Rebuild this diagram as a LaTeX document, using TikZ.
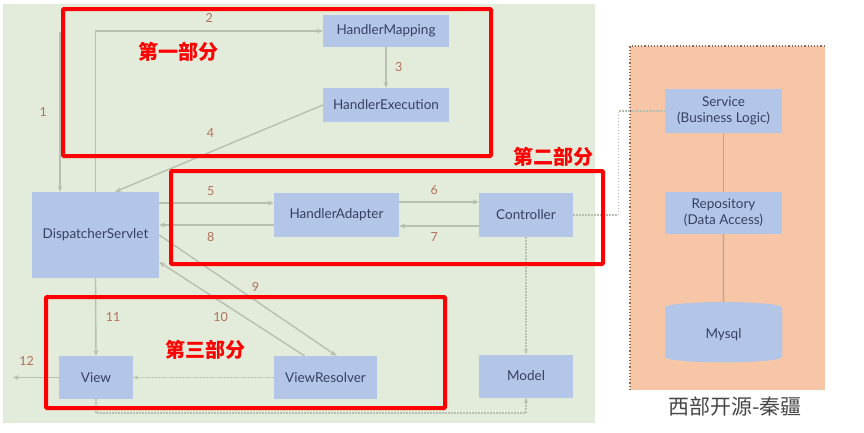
\documentclass[tikz,border=0pt]{standalone}
\usepackage{fontspec}
\setmainfont{Lato}
\newfontfamily\cjk{Noto Sans CJK SC}
\usepackage{tikz}
\usetikzlibrary{arrows.meta, calc, shapes.geometric}

\definecolor{bggreen}{HTML}{E3ECDA}
\definecolor{boxblue}{HTML}{B4C6E8}
\definecolor{boxtext}{HTML}{34405E}
\definecolor{linegray}{HTML}{B7BFB0}
\definecolor{numred}{HTML}{B2705B}
\definecolor{salmon}{HTML}{F6C6A6}

\tikzset{
  blk/.style={fill=boxblue, text=boxtext, font=\fontsize{13.5}{16}\selectfont, align=center, inner sep=0pt},
  flow/.style={draw=linegray, line width=1.4pt, -{Stealth[length=6pt, width=5pt]}},
  dots/.style={draw=linegray, line width=1.4pt, dash pattern=on 1.5pt off 1.5pt},
  num/.style={text=numred, font=\fontsize{12.5}{14}\selectfont},
  part/.style={draw=red, line width=4pt, rounded corners=1pt},
  parttext/.style={text=red, font=\cjk\bfseries\fontsize{20}{24}\selectfont}
}

\begin{document}
\begin{tikzpicture}[x=1pt, y=-1pt]
    \useasboundingbox (0,0) rectangle (864,432);
    % 1. 背景 (绿色区域 + 右侧橙色区域)
    \fill[bggreen] (3,4) rectangle (595,423);
    \fill[salmon] (630,46) rectangle (825,390);
    \draw[dotted, line width=1.2pt, black!45!salmon] (630,390) -- (630,46) -- (825,46);

    % 2. 各个组件
    \node[blk, minimum width=126, minimum height=32] (hm) at (386,31) {HandlerMapping};
    \node[blk, minimum width=126, minimum height=34] (he) at (386,105) {HandlerExecution};
    \node[blk, minimum width=127, minimum height=86] (ds) at (95.5,235) {DispatcherServlet};
    \node[blk, minimum width=125, minimum height=44] (ha) at (336.5,215) {HandlerAdapter};
    \node[blk, minimum width=94, minimum height=44] (ctl) at (526,215) {Controller};
    \node[blk, minimum width=74, minimum height=43] (view) at (96,377.5) {View};
    \node[blk, minimum width=103, minimum height=43] (vr) at (325.5,377.5) {ViewResolver};
    \node[blk, minimum width=94, minimum height=43] (model) at (526,376) {Model};
    \node[blk, minimum width=117, minimum height=44] (svc) at (723.5,111) {Service\\(Business Logic)};
    \node[blk, minimum width=117, minimum height=42] (repo) at (723.5,213) {Repository\\(Data Access)};
    \node[blk, cylinder, shape border rotate=90, aspect=0.3, minimum width=117, minimum height=60,
          cylinder uses custom fill, cylinder body fill=boxblue, cylinder end fill=boxblue] (db) at (723.5,335) {Mysql};

    % 3. 请求流程 1-12
    \coordinate (in1) at (60,32);
    \draw[flow] (in1) -- (in1 |- ds.north) node[num, midway, left=9pt] {1};
    \draw[flow] (ds.north) |- (hm.west) node[num, pos=0.75, above=4pt] {2};
    \draw[flow] (hm.south) -- (he.north) node[num, midway, right=5pt] {3};
    \draw[flow] (he.west) -- ([xshift=19.5pt]ds.north) node[num, pos=0.54, above=10pt] {4};

    \coordinate (a5) at ([yshift=12pt]ha.west);
    \coordinate (a8) at ([yshift=-10pt]ha.west);
    \coordinate (a6) at ([yshift=13pt]ha.east);
    \coordinate (a7) at ([yshift=-11pt]ctl.west);
    \draw[flow] (a5 -| ds.east) -- (a5) node[num, pos=0.45, above=3pt] {5};
    \draw[flow] (a6) -- (a6 -| ctl.west) node[num, pos=0.44, above=3pt] {6};
    \draw[flow] (a7) -- (a7 -| ha.east) node[num, pos=0.56, below=3pt] {7};
    \draw[flow] (a8) -- (a8 -| ds.east) node[num, pos=0.55, below=3pt] {8};

    \draw[flow] (ds.east) -- ([xshift=11pt]vr.north) node[num, pos=0.5, above right=0pt] {9};
    \draw[flow] ([xshift=-21pt]vr.north) -- ([yshift=-27pt]ds.east) node[num, pos=0.5, below left=0pt] {10};
    \draw[flow] (ds.south) -- (view.north) node[num, midway, right=6pt] {11};
    \coordinate (out12) at (13,377.5);
    \draw[flow] (view.west) -- (out12) node[num, pos=0.7, above=8pt] {12};

    % 4. 虚线 (数据传递)
    \draw[dots, -{Stealth[length=5pt, width=4pt]}] (vr.west) -- (view.east);
    \draw[dots, -{Stealth[length=5pt, width=4pt]}] (ctl.south) -- (model.north);
    \coordinate (low) at (0,413);
    \draw[dots, -{Stealth[length=5pt, width=4pt]}] (view.south) -- (view.south |- low) -- (model.south |- low) -- (model.south);
    \draw[dots] (ctl.east) -- ++(45,0) |- (svc.west);

    % 5. 业务层
    \draw[linegray!70!gray, line width=1.4pt] (svc.south) -- (repo.north);
    \draw[linegray!70!gray, line width=1.4pt] (repo.south) -- (db.north);

    % 6. 红框标注三部分
    \draw[part] (63,9) rectangle (491,156);
    \draw[part] (171,171) rectangle (603,264);
    \draw[part] (46,297) rectangle (445,408);
    \node[parttext] (p1) at (178,52) {第一部分};
    \node[parttext] (p2) at (553,157) {第二部分};
    \node[parttext] (p3) at (205,350) {第三部分};

    \node[font=\cjk\fontsize{21}{24}\selectfont, text=black!72] (sign) at (735,407) {西部开源-秦疆};
\end{tikzpicture}
\end{document}
